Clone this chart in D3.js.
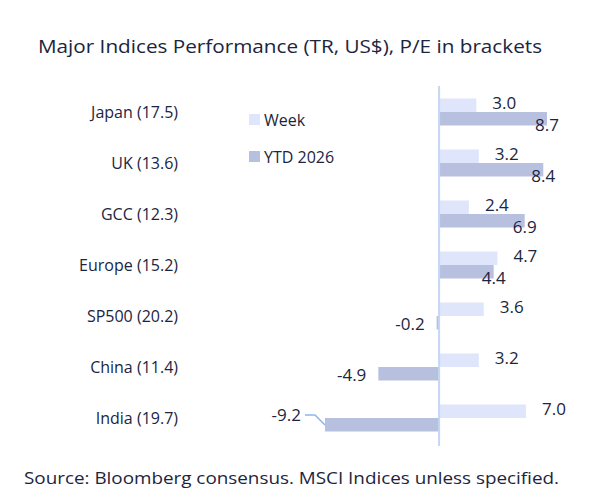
<!DOCTYPE html>
<html><head><meta charset="utf-8">
<script src="https://cdn.jsdelivr.net/npm/d3@7"></script>
<style>body{margin:0;background:#fff}text{font-family:"Open Sans","Noto Sans",sans-serif;fill:#1c2540}</style>
</head><body><svg id="chart" width="595" height="500"></svg>
<script>
const categories = ['Japan (17.5)', 'UK (13.6)', 'GCC (12.3)', 'Europe (15.2)', 'SP500 (20.2)', 'China (11.4)', 'India (19.7)'];
const weekValues = [3.0, 3.2, 2.4, 4.7, 3.6, 3.2, 7.0];
const ytdValues = [8.7, 8.4, 6.9, 4.4, -0.2, -4.9, -9.2];
const seriesNames = ['Week', 'YTD 2026'];
const colors = ['#dfe6fb', '#b8c0e0'];

const svg = d3.select('#chart');
const x = d3.scaleLinear().domain([-9.2, 8.7]).range([325, 547]);
const y = d3.scaleBand().domain(categories).range([86.5, 443.5]);
const bh = 13.5;

svg.append('text').attr('x', 38).attr('y', 53).attr('font-size', 18)
    .attr('textLength', 504).attr('lengthAdjust', 'spacingAndGlyphs')
    .text('Major Indices Performance (TR, US$), P/E in brackets');

svg.append('g').selectAll('text').data(categories).join('text')
    .attr('x', 178).attr('y', d => y(d) + y.bandwidth() / 2 + 6)
    .attr('text-anchor', 'end').attr('font-size', 16).text(d => d);

const g = svg.append('g');
categories.forEach((c, i) => {
    const cy = y(c) + y.bandwidth() / 2;
    const w = weekValues[i], t = ytdValues[i];
    g.append('rect').attr('x', x(Math.min(0, w))).attr('y', cy - bh)
        .attr('width', Math.abs(x(w) - x(0))).attr('height', bh).attr('fill', colors[0]);
    g.append('rect').attr('x', x(Math.min(0, t))).attr('y', cy)
        .attr('width', Math.abs(x(t) - x(0))).attr('height', bh).attr('fill', colors[1]);
    g.append('text').attr('x', x(w) + 28).attr('y', cy - 3).attr('text-anchor', 'middle')
        .attr('font-size', 17).text(w.toFixed(1));
    if (t >= 0) {
        g.append('text').attr('x', x(t)).attr('y', cy + 19).attr('text-anchor', 'middle')
            .attr('font-size', 17).text(t.toFixed(1));
    } else if (t < -6) {
        g.append('path').attr('d', `M${x(t) - 20},${cy - 3}H${x(t) - 10}L${x(t)},${cy + 7}`)
            .attr('fill', 'none').attr('stroke', '#8fb4ee').attr('stroke-width', 1.5);
        g.append('text').attr('x', x(t) - 24).attr('y', cy + 3).attr('text-anchor', 'end')
            .attr('font-size', 17).text(t.toFixed(1));
    } else {
        g.append('text').attr('x', x(t) - 12).attr('y', cy + 14).attr('text-anchor', 'end')
            .attr('font-size', 17).text(t.toFixed(1));
    }
});
g.append('line').attr('x1', x(0)).attr('x2', x(0)).attr('y1', 86).attr('y2', 446)
    .attr('stroke', '#c5d6f6').attr('stroke-width', 2);

const lg = svg.append('g');
seriesNames.forEach((s, i) => {
    lg.append('rect').attr('x', 249).attr('y', 114 + i * 37).attr('width', 11).attr('height', 11).attr('fill', colors[i]);
    lg.append('text').attr('x', 264).attr('y', 126 + i * 37).attr('font-size', 16).text(s);
});

svg.append('text').attr('x', 24).attr('y', 484).attr('font-size', 16)
    .attr('textLength', 535).attr('lengthAdjust', 'spacingAndGlyphs')
    .text('Source: Bloomberg consensus. MSCI Indices unless specified.');
</script></body></html>
